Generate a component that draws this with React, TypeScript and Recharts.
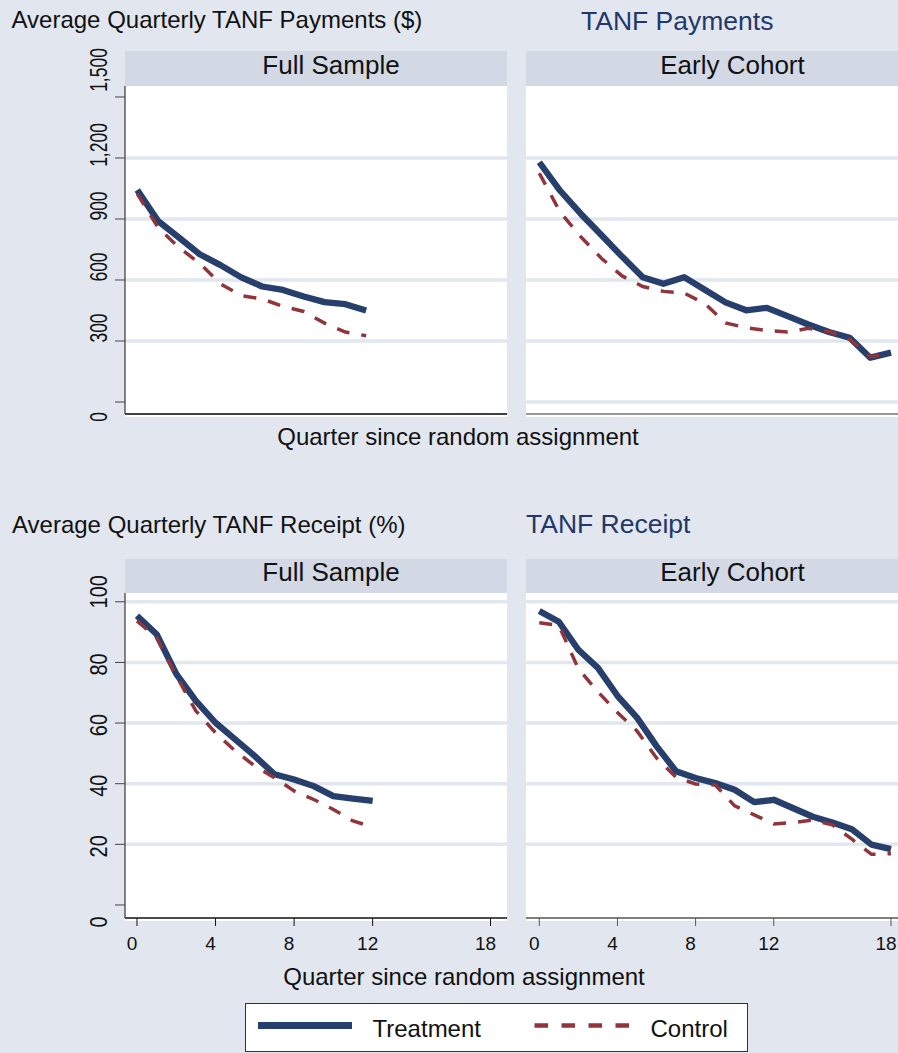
import React from 'react';
import { LineChart, Line, XAxis, YAxis, CartesianGrid } from 'recharts';

const FONT = '"Liberation Sans", Arial, Helvetica, sans-serif';
const BG = '#e1e6ef';
const STRIP = '#d2d9e4';
const GRID = '#e1e6ef';
const NAVY = '#263f6c';
const MAROON = '#90353b';
const TITLE_BLUE = '#22386a';

// ---------- data ----------
const paymentsFullQuarters = [1, 2, 3, 4, 5, 6, 7, 8, 9, 10, 11, 12];
const paymentsFullTreatment = [1043, 890, 809, 727, 673, 613, 568, 551, 519, 491, 481, 450];
const paymentsFullControl = [1024, 858, 760, 682, 581, 523, 507, 470, 445, 388, 344, 326];

const paymentsEarlyQuarters = [1, 2, 3, 4, 5, 6, 7, 8, 9, 10, 11, 12, 13, 14, 15, 16, 17, 18];
const paymentsEarlyTreatment = [1179, 1040, 926, 821, 715, 614, 581, 614, 552, 490, 451, 463, 422, 381, 344, 316, 218, 243];
const paymentsEarlyControl = [1125, 935, 813, 707, 620, 568, 544, 536, 484, 389, 365, 352, 344, 362, 347, 308, 223, 235];

const receiptFullQuarters = [0, 1, 2, 3, 4, 5, 6, 7, 8, 9, 10, 11, 12];
const receiptFullTreatment = [95.4, 89.3, 76.2, 67.3, 60.1, 54.6, 49.1, 43.1, 41.4, 39.2, 35.9, 35.1, 34.3];
const receiptFullControl = [93.7, 88.2, 75.6, 64.0, 56.8, 50.8, 45.8, 42.0, 37.6, 34.8, 31.5, 27.7, 25.7];

const receiptEarlyQuarters = [0, 1, 2, 3, 4, 5, 6, 7, 8, 9, 10, 11, 12, 13, 14, 15, 16, 17, 18];
const receiptEarlyTreatment = [97.0, 93.4, 84.2, 78.2, 69.0, 61.8, 52.4, 44.1, 41.9, 40.2, 38.0, 33.9, 34.7, 31.9, 29.1, 27.2, 25.0, 19.9, 18.4];
const receiptEarlyControl = [93.1, 92.2, 77.9, 70.3, 63.5, 57.4, 48.5, 42.1, 39.9, 39.6, 32.7, 29.7, 26.7, 27.2, 28.0, 26.4, 21.7, 16.7, 16.9];

const paymentTicks = [0, 300, 600, 900, 1200, 1500];
const paymentGridFull = [300, 600, 900, 1200];
const paymentGridEarly = [0, 300, 600, 900, 1200];
const receiptTicks = [0, 20, 40, 60, 80, 100];
const receiptGrid = [20, 40, 60, 80, 100];
const quarterTicks = [0, 4, 8, 12, 18];

const panelTitles = ['Full Sample', 'Early Cohort'];
const xTitle = 'Quarter since random assignment';
const seriesNames = ['Treatment', 'Control'];

function buildRows(q: number[], t: number[], c: number[]) {
  return q.map((x, i) => ({ q: x, treatment: t[i], control: c[i] }));
}

const rowsPayFull = buildRows(paymentsFullQuarters, paymentsFullTreatment, paymentsFullControl);
const rowsPayEarly = buildRows(paymentsEarlyQuarters, paymentsEarlyTreatment, paymentsEarlyControl);
const rowsRecFull = buildRows(receiptFullQuarters, receiptFullTreatment, receiptFullControl);
const rowsRecEarly = buildRows(receiptEarlyQuarters, receiptEarlyTreatment, receiptEarlyControl);

type YTickCfg = {
  fontSize: number;
  stretch: number;
  first: number;
  last: number;
  firstNudge: number;
  lastNudge: number;
  otherNudge: number;
};

function makeYTick(cfg: YTickCfg) {
  return function YTick(props: any) {
    const { x, y, payload } = props;
    const v = payload.value;
    let nudge = cfg.otherNudge;
    if (v === cfg.first) nudge = cfg.firstNudge;
    if (v === cfg.last) nudge = cfg.lastNudge;
    const label = Number(v).toLocaleString('en-US');
    return (
      <g transform={`translate(${x - 8},${y + nudge}) rotate(-90) scale(1,${cfg.stretch})`}>
        <text x={0} y={0} textAnchor="middle" fontSize={cfg.fontSize} fontFamily={FONT} fill="#111">
          {label}
        </text>
      </g>
    );
  };
}

function XTick(props: any) {
  const { x, y, payload } = props;
  return (
    <text x={x - 5} y={y + 24} textAnchor="middle" fontSize={19} fontFamily={FONT} fill="#111">
      {payload.value}
    </text>
  );
}

const payYTick = makeYTick({ fontSize: 17.5, stretch: 1.35, first: 0, last: 1500, firstNudge: 15, lastNudge: -27, otherNudge: -13 });
const recYTick = makeYTick({ fontSize: 20, stretch: 1.2, first: 0, last: 100, firstNudge: 17, lastNudge: -10, otherNudge: 2 });

type PanelProps = {
  rows: any[];
  width: number;
  plotHeight: number;
  marginTop: number;
  marginBottom: number;
  xDomain: [number, number];
  yDomain: [number, number];
  yTicks?: number[];
  yTick?: any;
  grid: number[];
  xTicks?: number[];
  xAxisHeight: number;
  xAxisColor: string;
  yAxisWidth: number;
};

function Panel(p: PanelProps) {
  const height = p.marginTop + p.plotHeight + p.xAxisHeight + p.marginBottom;
  return (
    <LineChart
      width={p.width}
      height={height}
      data={p.rows}
      margin={{ top: p.marginTop, right: 0, bottom: p.marginBottom, left: 0 }}
    >
      <CartesianGrid horizontalValues={p.grid} vertical={false} stroke={GRID} strokeWidth={3.5} />
      <XAxis
        dataKey="q"
        type="number"
        domain={p.xDomain}
        allowDataOverflow
        ticks={p.xTicks}
        interval={0}
        tick={p.xTicks ? <XTick /> : false}
        tickLine={p.xTicks ? { stroke: p.xAxisColor } : false}
        tickSize={8}
        tickMargin={0}
        axisLine={{ stroke: p.xAxisColor, strokeWidth: 1.3 }}
        height={p.xAxisHeight}
      />
      <YAxis
        type="number"
        domain={p.yDomain}
        allowDataOverflow
        hide={!p.yTicks}
        ticks={p.yTicks}
        interval={0}
        width={p.yAxisWidth}
        tick={p.yTick}
        tickSize={10}
        tickMargin={0}
        tickLine={{ stroke: '#444' }}
        axisLine={{ stroke: '#444', strokeWidth: 1.3 }}
      />
      <Line
        dataKey="treatment"
        name={seriesNames[0]}
        type="linear"
        stroke={NAVY}
        strokeWidth={6.3}
        strokeLinejoin="round"
        dot={false}
        activeDot={false}
        isAnimationActive={false}
      />
      <Line
        dataKey="control"
        name={seriesNames[1]}
        type="linear"
        stroke={MAROON}
        strokeWidth={3.5}
        strokeDasharray="13 12"
        dot={false}
        activeDot={false}
        isAnimationActive={false}
      />
    </LineChart>
  );
}

const txt = (x: number, y: number, s: string, size: number, opts: any = {}) => (
  <text x={x} y={y} fontSize={size} fontFamily={FONT} fill={opts.fill || '#111'} textAnchor={opts.anchor || 'start'}>
    {s}
  </text>
);

const TOP_PLOT_Y = 86;
const BOTTOM_PLOT_Y = 593;
const TOP_MARGIN_TOP = 50;
const BOTTOM_MARGIN_TOP = 30;

export default function App() {
  return (
    <div
      style={{
        position: 'absolute',
        left: 0,
        top: 0,
        width: 898,
        height: 1053,
        overflow: 'hidden',
        background: BG,
        fontFamily: FONT,
      }}
    >
      <svg width={898} height={1053} style={{ position: 'absolute', left: 0, top: 0 }}>
        <rect x={0} y={0} width={898} height={1053} fill={BG} />
        {/* top section */}
        {txt(11.5, 28, 'Average Quarterly TANF Payments ($)', 24)}
        {txt(581, 30, 'TANF Payments', 26.5, { fill: TITLE_BLUE })}
        <rect x={125} y={51} width={382} height={35} fill={STRIP} />
        <rect x={526} y={51} width={372} height={35} fill={STRIP} />
        {txt(331, 74, panelTitles[0], 26, { anchor: 'middle' })}
        {txt(732.5, 74, panelTitles[1], 26, { anchor: 'middle' })}
        <rect x={125} y={86} width={382} height={331} fill="#fff" />
        <rect x={526} y={86} width={372} height={331} fill="#fff" />
        {txt(458, 445, xTitle, 24, { anchor: 'middle' })}

        {/* bottom section */}
        {txt(12, 533, 'Average Quarterly TANF Receipt (%)', 24)}
        {txt(526, 533, 'TANF Receipt', 26.5, { fill: TITLE_BLUE })}
        <rect x={125} y={559} width={382} height={34} fill={STRIP} />
        <rect x={526} y={559} width={372} height={34} fill={STRIP} />
        {txt(331, 581, panelTitles[0], 26, { anchor: 'middle' })}
        {txt(732.5, 581, panelTitles[1], 26, { anchor: 'middle' })}
        <rect x={125} y={593} width={382} height={328} fill="#fff" />
        <rect x={526} y={593} width={372} height={328} fill="#fff" />
        {txt(464, 985, xTitle, 24, { anchor: 'middle' })}

        {/* legend */}
        <rect x={245.5} y={1003.5} width={502} height={48} fill="#fff" stroke="#333" strokeWidth={1} />
        <line x1={258} y1={1025.5} x2={352} y2={1025.5} stroke={NAVY} strokeWidth={7} />
        {txt(372.5, 1037, seriesNames[0], 24)}
        <line x1={534.5} y1={1025.5} x2={630} y2={1025.5} stroke={MAROON} strokeWidth={4.3} strokeDasharray="13.6 13.4" />
        {txt(650.5, 1037, seriesNames[1], 24)}
      </svg>

      <div style={{ position: 'absolute', left: 0, top: TOP_PLOT_Y - TOP_MARGIN_TOP }}>
        <Panel
          rows={rowsPayFull}
          width={507}
          plotHeight={328}
          marginTop={TOP_MARGIN_TOP}
          marginBottom={20}
          xDomain={[0.41, 18.77]}
          yDomain={[-59, 1554]}
          yTicks={paymentTicks}
          yTick={payYTick}
          grid={paymentGridFull}
          xAxisHeight={2}
          xAxisColor="#000"
          yAxisWidth={125}
        />
      </div>
      <div style={{ position: 'absolute', left: 526, top: TOP_PLOT_Y - TOP_MARGIN_TOP }}>
        <Panel
          rows={rowsPayEarly}
          width={382}
          plotHeight={328}
          marginTop={TOP_MARGIN_TOP}
          marginBottom={20}
          xDomain={[0.357, 18.82]}
          yDomain={[-59, 1554]}
          grid={paymentGridEarly}
          xAxisHeight={2}
          xAxisColor="#777"
          yAxisWidth={0}
        />
      </div>
      <div style={{ position: 'absolute', left: 0, top: BOTTOM_PLOT_Y - BOTTOM_MARGIN_TOP }}>
        <Panel
          rows={rowsRecFull}
          width={507}
          plotHeight={325}
          marginTop={BOTTOM_MARGIN_TOP}
          marginBottom={5}
          xDomain={[-0.61, 18.84]}
          yDomain={[-4.3, 102.9]}
          yTicks={receiptTicks}
          yTick={recYTick}
          grid={receiptGrid}
          xTicks={quarterTicks}
          xAxisHeight={45}
          xAxisColor="#111"
          yAxisWidth={125}
        />
      </div>
      <div style={{ position: 'absolute', left: 526, top: BOTTOM_PLOT_Y - BOTTOM_MARGIN_TOP }}>
        <Panel
          rows={rowsRecEarly}
          width={382}
          plotHeight={325}
          marginTop={BOTTOM_MARGIN_TOP}
          marginBottom={5}
          xDomain={[-0.68, 18.87]}
          yDomain={[-4.3, 102.9]}
          grid={receiptGrid}
          xTicks={quarterTicks}
          xAxisHeight={45}
          xAxisColor="#555"
          yAxisWidth={0}
        />
      </div>
    </div>
  );
}
